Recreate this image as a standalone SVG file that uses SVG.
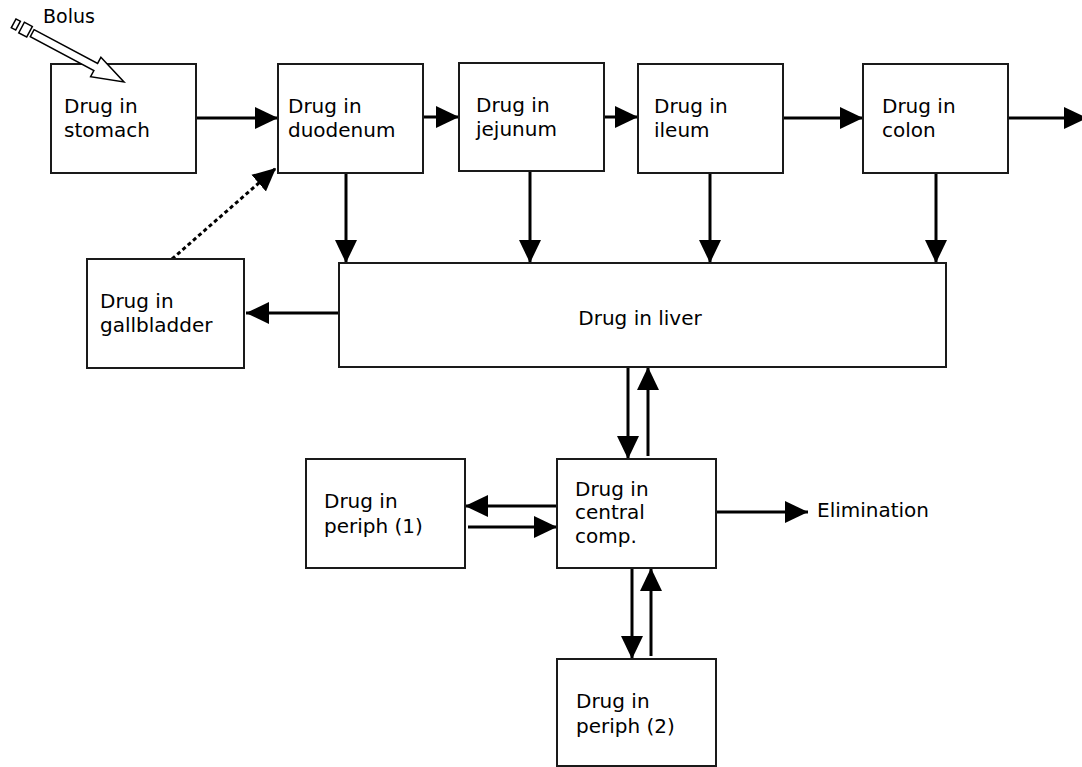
<svg xmlns="http://www.w3.org/2000/svg" width="1082" height="767" viewBox="0 0 1082 767">
<style>
.box{fill:#fff;stroke:#1a1a1a;stroke-width:2}
.lbl{font-family:"DejaVu Sans",sans-serif;font-size:20px;fill:#000}
.c{fill:none;stroke:#000;stroke-width:3;marker-end:url(#ah)}
.d{fill:none;stroke:#000;stroke-width:3;stroke-dasharray:4 3;marker-end:url(#ah)}
.hol{fill:#fff;stroke:#000;stroke-width:1.5}
</style>
<defs>
<marker id="ah" markerUnits="userSpaceOnUse" markerWidth="24" markerHeight="24" refX="23" refY="11" orient="auto" viewBox="0 0 24 22">
<path d="M0,0 L23,11 L0,22 z" fill="#000"/>
</marker>
</defs>
<rect width="1082" height="767" fill="#fff"/>
<g id="connectors">
<path class="c" d="M196,118 H278"/>
<path class="c" d="M423,117 H459"/>
<path class="c" d="M604,117 H638"/>
<path class="c" d="M783,118 H863"/>
<path class="c" d="M1008,118 H1087"/>
<path class="c" d="M346,173 V263"/>
<path class="c" d="M530,171 V263"/>
<path class="c" d="M710,173 V263"/>
<path class="c" d="M936,173 V263"/>
<path class="c" d="M339,313 H246"/>
<path class="d" d="M172,259 L276,168"/>
<path class="c" d="M628,367 V459"/>
<path class="c" d="M648,456 V367"/>
<path class="c" d="M557,506 H465"/>
<path class="c" d="M468,527 H557"/>
<path class="c" d="M716,512 H808"/>
<path class="c" d="M632,568 V659"/>
<path class="c" d="M651,656 V568"/>
</g>
<g id="stomach">
<rect class="box" x="51" y="64" width="145" height="109"/>
<text class="lbl" x="64" y="113">Drug in</text>
<text class="lbl" x="64" y="137">stomach</text>
</g>
<g id="bolus">
<g transform="translate(124,82) rotate(28)">
<polygon class="hol" points="-104,-4 -32,-4 -32,-11 0,0 -32,11 -32,4 -104,4"/>
<rect class="hol" x="-116" y="-6" width="9" height="12"/>
<rect class="hol" x="-125" y="-5" width="5" height="10"/>
</g>
<text class="lbl" x="43" y="23" style="font-size:19px">Bolus</text>
</g>
<g id="duodenum">
<rect class="box" x="278" y="64" width="145" height="109"/>
<text class="lbl" x="288" y="113">Drug in</text>
<text class="lbl" x="288" y="137">duodenum</text>
</g>
<g id="jejunum">
<rect class="box" x="459" y="63" width="145" height="108"/>
<text class="lbl" x="476" y="112">Drug in</text>
<text class="lbl" x="476" y="136">jejunum</text>
</g>
<g id="ileum">
<rect class="box" x="638" y="64" width="145" height="109"/>
<text class="lbl" x="654" y="113">Drug in</text>
<text class="lbl" x="654" y="137">ileum</text>
</g>
<g id="colon">
<rect class="box" x="863" y="64" width="145" height="109"/>
<text class="lbl" x="882" y="113">Drug in</text>
<text class="lbl" x="882" y="137">colon</text>
</g>
<g id="liver">
<rect class="box" x="339" y="263" width="607" height="104"/>
<text class="lbl" x="640" y="325" text-anchor="middle">Drug in liver</text>
</g>
<g id="gallbladder">
<rect class="box" x="87" y="259" width="157" height="109"/>
<text class="lbl" x="100" y="308">Drug in</text>
<text class="lbl" x="100" y="332">gallbladder</text>
</g>
<g id="central">
<rect class="box" x="557" y="459" width="159" height="109"/>
<text class="lbl" x="575" y="496">Drug in</text>
<text class="lbl" x="575" y="519">central</text>
<text class="lbl" x="575" y="543">comp.</text>
</g>
<g id="periph1">
<rect class="box" x="306" y="459" width="159" height="109"/>
<text class="lbl" x="324" y="508">Drug in</text>
<text class="lbl" x="324" y="533">periph (1)</text>
</g>
<g id="periph2">
<rect class="box" x="557" y="659" width="159" height="107"/>
<text class="lbl" x="576" y="708">Drug in</text>
<text class="lbl" x="576" y="733">periph (2)</text>
</g>
<g id="elimination">
<text class="lbl" x="817" y="517">Elimination</text>
</g>
</svg>
